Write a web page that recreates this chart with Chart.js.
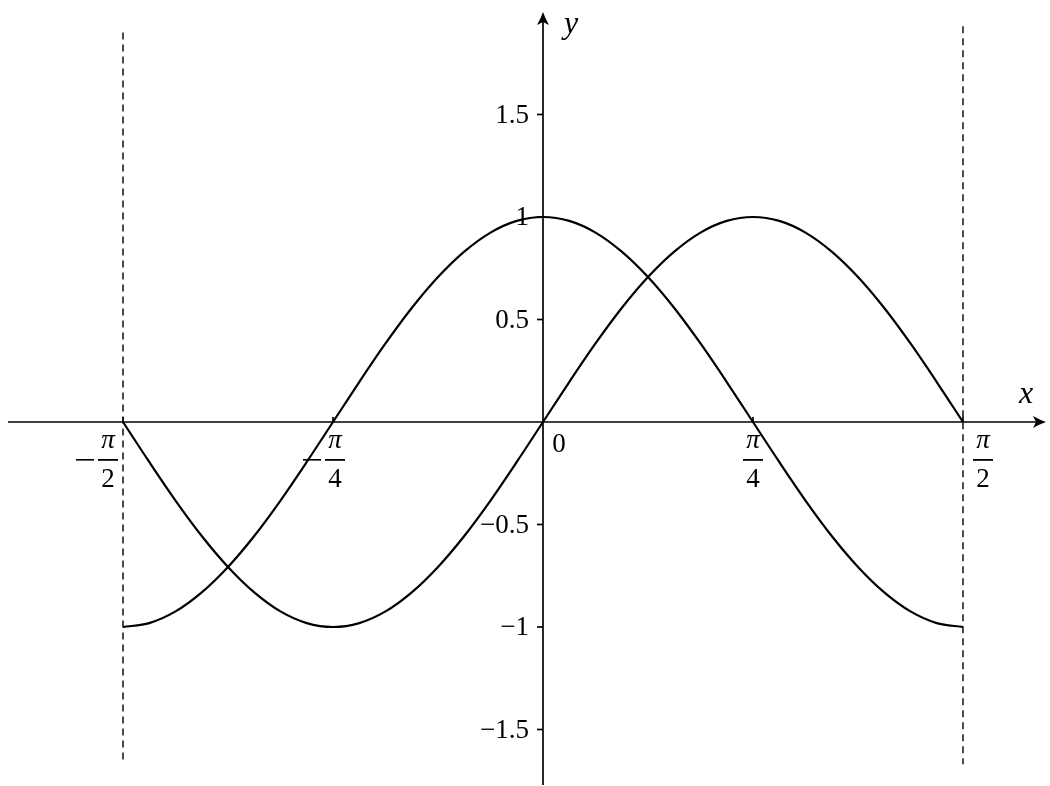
<!DOCTYPE html>
<html>
<head>
<meta charset="utf-8">
<script src="https://cdn.jsdelivr.net/npm/chart.js@4"></script>
<style>
  html, body { margin: 0; padding: 0; background: #fff; }
  #wrap { width: 1050px; height: 786px; position: relative; }
</style>
</head>
<body>
<div id="wrap"><canvas id="plot"></canvas></div>
<script>
// x positions in units of pi (x = t * pi), step pi/32
const xPi = [-0.5, -0.46875, -0.4375, -0.40625, -0.375, -0.34375, -0.3125, -0.28125,
             -0.25, -0.21875, -0.1875, -0.15625, -0.125, -0.09375, -0.0625, -0.03125,
             0, 0.03125, 0.0625, 0.09375, 0.125, 0.15625, 0.1875, 0.21875,
             0.25, 0.28125, 0.3125, 0.34375, 0.375, 0.40625, 0.4375, 0.46875, 0.5];
// curve starting at -1 on the left (peak 1 at x = 0)
const curveA = [-1, -0.981, -0.924, -0.831, -0.707, -0.556, -0.383, -0.195,
                0, 0.195, 0.383, 0.556, 0.707, 0.831, 0.924, 0.981,
                1, 0.981, 0.924, 0.831, 0.707, 0.556, 0.383, 0.195,
                0, -0.195, -0.383, -0.556, -0.707, -0.831, -0.924, -0.981, -1];
// curve starting at 0 on the left (min at -pi/4, max at pi/4)
const curveB = [0, -0.195, -0.383, -0.556, -0.707, -0.831, -0.924, -0.981,
                -1, -0.981, -0.924, -0.831, -0.707, -0.556, -0.383, -0.195,
                0, 0.195, 0.383, 0.556, 0.707, 0.831, 0.924, 0.981,
                1, 0.981, 0.924, 0.831, 0.707, 0.556, 0.383, 0.195, 0];
// dashed boundaries at x = -pi/2 and x = pi/2
const leftDash = [1.90, -1.66];
const rightDash = [1.93, -1.67];
// tick labels
const yTicks = [1.5, 1, 0.5, -0.5, -1, -1.5];
const yTickLabels = ['1.5', '1', '0.5', '\u22120.5', '\u22121', '\u22121.5'];
const xTicks = [-0.5, -0.25, 0.25, 0.5];
const xTickLabels = [
  { minus: true, den: '2' },
  { minus: true, den: '4' },
  { minus: false, den: '4' },
  { minus: false, den: '2' }
];

const pts = (xs, ys) => xs.map((x, i) => ({ x: x, y: ys[i] }));

const FONT = '"Liberation Serif", "DejaVu Serif", serif';

function arrowHead(ctx, x, y, angle) {
  ctx.save();
  ctx.translate(x, y);
  ctx.rotate(angle);
  ctx.beginPath();
  ctx.moveTo(0, 0);
  ctx.quadraticCurveTo(-6, -2, -13, -6);
  ctx.lineTo(-10, 0);
  ctx.lineTo(-13, 6);
  ctx.quadraticCurveTo(-6, 2, 0, 0);
  ctx.closePath();
  ctx.fill();
  ctx.restore();
}

const axesPlugin = {
  id: 'axes',
  beforeDatasetsDraw(chart) {
    const ctx = chart.ctx;
    const sx = chart.scales.x, sy = chart.scales.y;
    const x0 = sx.getPixelForValue(0), y0 = sy.getPixelForValue(0);
    ctx.save();
    ctx.strokeStyle = '#000';
    ctx.fillStyle = '#000';
    ctx.lineWidth = 1.7;
    // x axis
    ctx.beginPath();
    ctx.moveTo(8, y0);
    ctx.lineTo(1040, y0);
    ctx.stroke();
    arrowHead(ctx, 1046, y0, 0);
    // y axis
    ctx.beginPath();
    ctx.moveTo(x0, 785);
    ctx.lineTo(x0, 18);
    ctx.stroke();
    arrowHead(ctx, x0, 12, -Math.PI / 2);

    // y ticks
    ctx.font = '27px ' + FONT;
    ctx.textAlign = 'right';
    ctx.textBaseline = 'middle';
    yTicks.forEach((v, i) => {
      const py = sy.getPixelForValue(v);
      ctx.beginPath();
      ctx.moveTo(x0 - 6, py);
      ctx.lineTo(x0, py);
      ctx.stroke();
      ctx.fillText(yTickLabels[i], x0 - 14, py + 1);
    });

    // x ticks
    xTicks.forEach((v, i) => {
      const px = sx.getPixelForValue(v);
      ctx.beginPath();
      ctx.moveTo(px, y0);
      ctx.lineTo(px, y0 - 5);
      ctx.stroke();
      const lab = xTickLabels[i];
      // fraction centre: left of tick for -pi/2, right for pi/2
      let cx = px;
      if (v === -0.5) cx = px - 15;
      else if (v === 0.5) cx = px + 20;
      else if (v === -0.25) cx = px + 2;
      ctx.font = 'italic 27px ' + FONT;
      ctx.textAlign = 'center';
      ctx.textBaseline = 'alphabetic';
      ctx.fillText('\u03c0', cx, y0 + 26);
      ctx.fillRect(cx - 10, y0 + 37, 20, 1.8);
      ctx.font = '27px ' + FONT;
      ctx.fillText(lab.den, cx, y0 + 65);
      if (lab.minus) {
        ctx.fillRect(cx - 32, y0 + 37, 18, 1.6);
      }
    });

    // origin label
    ctx.font = '27px ' + FONT;
    ctx.textAlign = 'center';
    ctx.textBaseline = 'middle';
    ctx.fillText('0', x0 + 16, y0 + 23);

    // axis names
    ctx.font = 'italic 32px ' + FONT;
    ctx.fillText('x', 1026, y0 - 27);
    ctx.fillText('y', 571, 25);
    ctx.restore();
  }
};

new Chart(document.getElementById('plot').getContext('2d'), {
  type: 'line',
  data: {
    datasets: [
      {
        label: 'A',
        data: pts(xPi, curveA),
        borderColor: '#000',
        borderWidth: 2.2,
        pointRadius: 0,
        tension: 0.33,
        fill: false
      },
      {
        label: 'B',
        data: pts(xPi, curveB),
        borderColor: '#000',
        borderWidth: 2.2,
        pointRadius: 0,
        tension: 0.33,
        fill: false
      },
      {
        label: 'left',
        data: pts([-0.5, -0.5], leftDash),
        borderColor: '#111',
        borderWidth: 1.5,
        borderDash: [7, 5],
        pointRadius: 0,
        tension: 0
      },
      {
        label: 'right',
        data: pts([0.5, 0.5], rightDash),
        borderColor: '#111',
        borderWidth: 1.5,
        borderDash: [7, 5],
        pointRadius: 0,
        tension: 0
      }
    ]
  },
  options: {
    responsive: true,
    maintainAspectRatio: false,
    animation: false,
    layout: { padding: 0 },
    scales: {
      x: { type: 'linear', display: false, min: -543 / 840, max: 507 / 840 },
      y: { type: 'linear', display: false, min: -364 / 205, max: 422 / 205 }
    },
    plugins: {
      legend: { display: false },
      tooltip: { enabled: false }
    }
  },
  plugins: [axesPlugin]
});
</script>
</body>
</html>
